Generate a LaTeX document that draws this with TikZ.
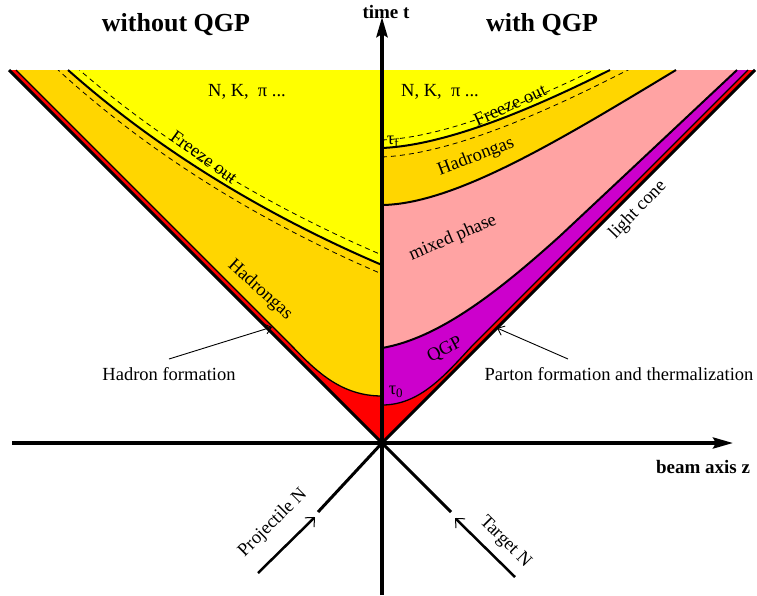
\documentclass[tikz,border=0pt]{standalone}
\usepackage{fontspec}
\setmainfont{Liberation Serif}
\usetikzlibrary{arrows.meta}
\definecolor{cyel}{RGB}{255,255,0}
\definecolor{cgold}{RGB}{255,214,0}
\definecolor{cred}{RGB}{255,0,0}
\definecolor{cpink}{RGB}{255,163,163}
\definecolor{cmag}{RGB}{204,0,204}
\tikzset{
 lbl/.style={font=\fontsize{18.5}{20}\selectfont, inner sep=0pt},
 ttl/.style={font=\fontsize{26}{28}\selectfont\bfseries, inner sep=0pt},
 axlbl/.style={font=\fontsize{19}{21}\selectfont\bfseries, inner sep=0pt},
 phase/.style={line width=2pt},
 thinb/.style={line width=1.3pt},
 cone/.style={line width=3pt},
 dsh/.style={line width=0.8pt, dash pattern=on 5pt off 4pt},
 axisline/.style={line width=4pt},
 pointer/.style={line width=0.9pt, -{Straight Barb[length=6pt,width=10pt]}},
 incoming/.style={line width=2.5pt, -{Straight Barb[length=7pt,width=13pt,line width=1pt]}},
}
\begin{document}
\begin{tikzpicture}[x=1pt,y=-1pt]
\useasboundingbox (0,0) rectangle (757,595);
\coordinate (O) at (382,443);
% ---------- left fills
\fill[cred] (O) -- (9,70) -- (382,70) -- cycle;
\fill[cgold] (382,396) .. controls (340,396) and (315,370) .. (290,344) -- (16,70) -- (382,70) -- cycle;
\fill[cyel] (68,70) .. controls (130,125) and (230,200) .. (382,265) -- (382,70) -- cycle;
% ---------- right fills
\fill[cred] (O) -- (755,70) -- (382,70) -- cycle;
\fill[cmag] (382,405) .. controls (420,405) and (445,375) .. (472,346) -- (748,70) -- (382,70) -- cycle;
\fill[cpink] (382,348) .. controls (440,338) and (500,290) .. (560,236) -- (737,70) -- (382,70) -- cycle;
\fill[cgold] (382,205) .. controls (455,204) and (560,140) .. (676,70) -- (382,70) -- cycle;
\fill[cyel] (382,148) .. controls (450,145) and (540,105) .. (610,70) -- (382,70) -- cycle;
% ---------- boundaries
\draw[thinb] (382,396) .. controls (340,396) and (315,370) .. (290,344) -- (16,70);
\draw[phase] (68,70) .. controls (130,125) and (230,200) .. (382,265);
\draw[thinb] (382,405) .. controls (420,405) and (445,375) .. (472,346) -- (748,70);
\draw[phase] (382,348) .. controls (440,338) and (500,290) .. (560,236) -- (737,70);
\draw[phase] (382,205) .. controls (455,204) and (560,140) .. (676,70);
\draw[phase] (382,148) .. controls (450,145) and (540,105) .. (610,70);
% ---------- dashed freeze-out bands
\begin{scope}
\clip (0,70) rectangle (382,443);
\draw[dsh, yshift=10pt] (56,59) -- (68,70) .. controls (130,125) and (230,200) .. (382,265);
\draw[dsh, yshift=-9pt] (56,59) -- (68,70) .. controls (130,125) and (230,200) .. (382,265);
\end{scope}
\begin{scope}
\clip (382,70) rectangle (757,443);
\draw[dsh, yshift=8pt] (382,148) .. controls (450,145) and (540,105) .. (610,70) -- ++(24,-12);
\draw[dsh, yshift=-9pt] (382,148) .. controls (450,145) and (540,105) .. (610,70) -- ++(24,-12);
\end{scope}
% ---------- light cone
\coordinate (LT) at (9,70);
\coordinate (RT) at (755,70);
\coordinate (LB) at (318,512);
\coordinate (RB) at (451,512);
\draw[cone] (LT) -- (O) -- (RT);
\draw[cone] (O) -- (LB);
\draw[cone] (O) -- (RB);
% ---------- axes
\coordinate (tA) at (382,595);
\coordinate (tB) at (382,17);
\coordinate (zA) at (12,443);
\coordinate (zB) at (733,443);
\draw[axisline, -{Stealth[length=20pt,width=11pt,inset=3pt]}] (tA) -- (tB);
\draw[line width=3.5pt, -{Stealth[length=20pt,width=11pt,inset=3pt]}] (zA) -- (zB);
% ---------- labels
\node[ttl] (t1) at (176,25) {without QGP};
\node[ttl] (t2) at (542,25) {with QGP};
\node[axlbl] (tt) at (386,12) {time t};
\node[axlbl] (bz) at (703,467) {beam axis z};
\node[lbl] (nk1) at (247,92) {N, K,\ \ π ...};
\node[lbl] (nk2) at (440,92) {N, K,\ \ π ...};
\node[lbl, rotate=-36] (fo1) at (204,157) {Freeze out};
\node[lbl, rotate=-42] (hg1) at (260,290) {Hadrongas};
\node[lbl, rotate=25] (fo2) at (510,105) {Freeze out};
\node[lbl, rotate=21] (hg2) at (476,157) {Hadrongas};
\node[lbl, rotate=23] (mp) at (453,238) {mixed phase};
\node[lbl, rotate=28] (qgp) at (445,350) {QGP};
\node[lbl, rotate=46] (lc) at (638,210) {light cone};
\node[lbl] (tf) at (393,142) {τ\textsubscript{f}};
\node[lbl] (t0) at (396,392) {τ\textsubscript{0}};
\node[lbl] (hf) at (169,374) {Hadron formation};
\node[lbl] (pf) at (619,374) {Parton formation and thermalization};
\node[lbl, rotate=45] (pn) at (273,523) {Projectile N};
\node[lbl, rotate=-45] (tn) at (505,542) {Target N};
% ---------- pointers
\coordinate (hfs) at (169,359);
\coordinate (hfe) at (272,327);
\draw[pointer] (hfs) -- (hfe);
\coordinate (pfs) at (568,359);
\coordinate (pfe) at (497,328);
\draw[pointer] (pfs) -- (pfe);
\coordinate (pnA) at (258,573);
\coordinate (pnB) at (315,517);
\draw[incoming] (pnA) -- (pnB);
\coordinate (tnA) at (515,577);
\coordinate (tnB) at (455,518);
\draw[incoming] (tnA) -- (tnB);
\end{tikzpicture}
\end{document}
